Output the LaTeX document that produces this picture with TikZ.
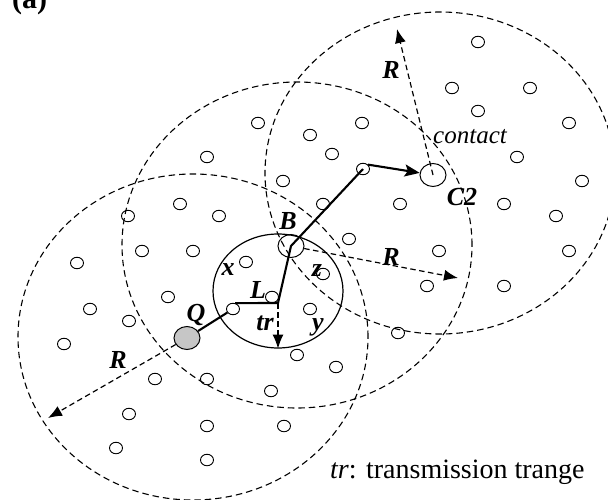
\documentclass[tikz,border=0pt]{standalone}
\usepackage{fontspec}
\setmainfont{Liberation Serif}
\usetikzlibrary{shapes.geometric,arrows.meta}

\tikzset{
  sensor/.style={draw, ellipse, minimum width=13pt, minimum height=11.5pt, inner sep=0pt, line width=0.9pt},
  hub/.style={draw, ellipse, minimum width=26pt, minimum height=23pt, inner sep=0pt, line width=1pt},
  zone/.style={line width=1.1pt, dash pattern=on 6.5pt off 4pt},
  txrange/.style={draw, ellipse, minimum width=130pt, minimum height=114pt, inner sep=0pt, line width=1.2pt},
  route/.style={line width=2.1pt},
  radius arrow/.style={line width=1.2pt, dash pattern=on 5.5pt off 3.5pt, -{Latex[length=14pt,width=11pt]}},
  lbl/.style={font=\fontsize{26}{26}\selectfont\bfseries\itshape, inner sep=0pt},
}

\begin{document}
\begin{tikzpicture}[x=1pt, y=-1pt]
\useasboundingbox (0,0) rectangle (608,500);

% three query zones of radius R
\draw[zone] (193,337) ellipse [x radius=175pt, y radius=163pt];
\draw[zone] (297,245) ellipse [x radius=175pt, y radius=163pt];
\draw[zone] (440,173) ellipse [x radius=175pt, y radius=161pt];

% transmission range around L
\node[txrange] (tx) at (278,291) {};

% sensor field
\foreach \p [count=\i] in {
  (207,157),(258,123),(310,135),(362,123),(332,154),(478,42),(452,88),
  (530,88),(478,111),(569,123),(517,157),(180,204),(128,216),(142,251),
  (193,251),(77,263),(168,297),(90,309),(129,321),(283,181),(219,216),
  (323,204),(400,204),(349,239),(246,262),(323,274),(272,297),(233,309),
  (310,309),(582,181),(504,204),(556,216),(439,251),(569,251),(427,286),
  (504,286),(398,333),(363,169),(297,355),(64,344),(155,379),(129,414),
  (116,448),(336,367),(207,379),(271,391),(207,426),(284,426),(207,460)}
  \node[sensor] (n\i) at \p {};

% special nodes
\node[hub, fill=gray!45] (Q) at (187,338) {};
\node[hub] (B) at (291,246) {};
\node[hub] (C2) at (433,175) {};
\coordinate (Lc) at (278,303);

% query route
\draw[route] (Q) -- (n28);
\draw[route] (n28.70) -- (Lc) -- (B.center) -- (n38.center);
\draw[route, -{Stealth[length=15pt,width=12pt,inset=3pt]}] (n38.north east) -- (C2);

% radii
\coordinate (r1) at (48,418);
\coordinate (r2) at (458,278);
\coordinate (r3) at (397,29);
\coordinate (trTip) at (tx.south);
\draw[radius arrow] (Q) -- (r1);
\draw[radius arrow] (B) -- (r2);
\draw[radius arrow] (C2.center) -- (r3);
\draw[radius arrow] (Lc) -- (trTip);

% labels
\node[lbl] (lQ) at (196,315) {Q};
\node[lbl] (lB) at (288,221) {B};
\node[lbl] (lL) at (258,290) {L};
\node[lbl] (lx) at (228,270) {x};
\node[lbl] (lz) at (317,271) {z};
\node[lbl] (ly) at (318,327) {y};
\node[lbl] (ltr) at (265,323) {tr};
\node[lbl] (lR1) at (118,360) {R};
\node[lbl] (lR2) at (391,257) {R};
\node[lbl] (lR3) at (391,70) {R};
\node[lbl] (lC2) at (462,197) {C2};
\node[font=\fontsize{25}{25}\selectfont\itshape, inner sep=0pt] (lcontact) at (470,137) {contact};
\node[font=\fontsize{28}{28}\selectfont, inner sep=0pt, anchor=base west] (legend) at (330,478) {\textit{tr}: transmission trange};
\node[font=\fontsize{30}{30}\selectfont\bfseries, inner sep=0pt, anchor=base west] (tag) at (12,9) {(a)};
\end{tikzpicture}
\end{document}
